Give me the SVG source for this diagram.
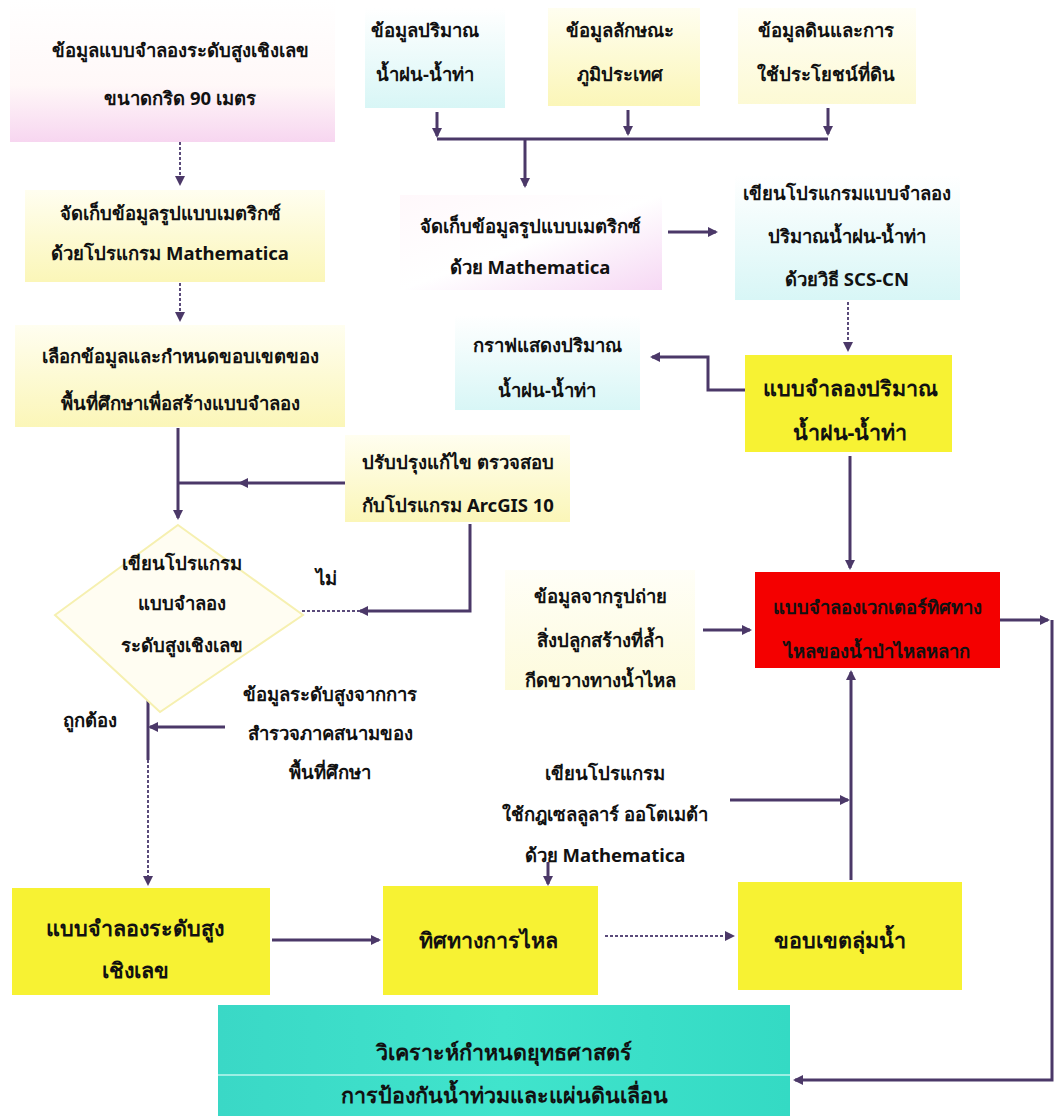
<svg xmlns="http://www.w3.org/2000/svg" width="1059" height="1116" viewBox="0 0 1059 1116">
<style>
.t{font-family:"Noto Sans","DejaVu Sans","Liberation Sans",sans-serif;font-weight:bold;font-size:18.5px;fill:#111;text-anchor:middle}
.b{font-size:21.5px}
.c{fill:none;stroke:#4b3868;stroke-width:3}
.d{fill:none;stroke:#5a4a7a;stroke-width:2;stroke-dasharray:3 2}
.fy{fill:#f7f233}
</style>
<defs>
<marker id="ah" markerWidth="10" markerHeight="10" refX="8" refY="5" orient="auto" markerUnits="userSpaceOnUse"><path d="M0,0 L10,5 L0,10 Z" fill="#4b3868"/></marker>
<linearGradient id="gp" x1="0" y1="0" x2="0" y2="1"><stop offset="0" stop-color="#ffffff"/><stop offset="0.6" stop-color="#fff8f8"/><stop offset="1" stop-color="#f7d6f0"/></linearGradient>
<linearGradient id="gy" x1="0" y1="0" x2="0" y2="1"><stop offset="0" stop-color="#fffef0"/><stop offset="1" stop-color="#fbf6b8"/></linearGradient>
<linearGradient id="gc" x1="0" y1="0" x2="0" y2="1"><stop offset="0" stop-color="#ffffff"/><stop offset="1" stop-color="#d8f6f6"/></linearGradient>
<linearGradient id="gk" x1="0" y1="0" x2="1" y2="1"><stop offset="0" stop-color="#fff8fb"/><stop offset="0.5" stop-color="#ffffff"/><stop offset="1" stop-color="#f6d8f4"/></linearGradient>
<linearGradient id="gt" x1="0" y1="0" x2="1" y2="0"><stop offset="0" stop-color="#3ad8c6"/><stop offset="0.5" stop-color="#40e4cc"/><stop offset="1" stop-color="#34dac4"/></linearGradient>
</defs>
<rect width="1059" height="1116" fill="#ffffff"/>

<g id="connectors">
<path class="d" d="M180,142 V184" marker-end="url(#ah)"/>
<path class="d" d="M180,283 V320" marker-end="url(#ah)"/>
<path class="c" d="M437,112 V136" marker-end="url(#ah)"/>
<path class="c" d="M628,110 V134" marker-end="url(#ah)"/>
<path class="c" d="M828,108 V134" marker-end="url(#ah)"/>
<path class="c" d="M437,139 H828"/>
<path class="c" d="M525,139 V186" marker-end="url(#ah)"/>
<path class="c" d="M668,232 H716" marker-end="url(#ah)"/>
<path class="d" d="M848,302 V350" marker-end="url(#ah)"/>
<path class="c" d="M745,390 H708 V357 H652" marker-end="url(#ah)"/>
<path class="c" d="M850,456 V568" marker-end="url(#ah)"/>
<path class="c" d="M178,428 V518" marker-end="url(#ah)"/>
<path class="c" d="M345,483 H240" marker-end="url(#ah)"/>
<path class="c" d="M240,483 H178"/>
<path class="c" d="M470,524 V611 H360" marker-end="url(#ah)"/>
<path class="d" d="M360,611 H300"/>
<path class="c" d="M148,696 V760"/>
<path class="d" d="M148,760 V884" marker-end="url(#ah)"/>
<path class="c" d="M225,727 H150" marker-end="url(#ah)"/>
<path class="c" d="M703,630 H750" marker-end="url(#ah)"/>
<path class="c" d="M730,800 H848" marker-end="url(#ah)"/>
<path class="c" d="M851,880 V672" marker-end="url(#ah)"/>
<path class="c" d="M548,862 V884" marker-end="url(#ah)"/>
<path class="c" d="M1000,620 H1048" marker-end="url(#ah)"/>
<path class="c" d="M1052,620 V1080 H795" marker-end="url(#ah)"/>
<path class="c" d="M272,940 H379" marker-end="url(#ah)"/>
<path class="d" d="M605,936 H733" marker-end="url(#ah)"/>
</g>

<g id="n1"><rect x="10" y="0" width="325" height="142" fill="url(#gp)"/>
<text class="t" x="180" y="57">ข้อมูลแบบจำลองระดับสูงเชิงเลข</text>
<text class="t" x="180" y="105">ขนาดกริด 90 เมตร</text></g>

<g id="n2"><rect x="365" y="8" width="140" height="100" fill="url(#gc)"/>
<text class="t" x="425" y="37">ข้อมูลปริมาณ</text>
<text class="t" x="425" y="81">น้ำฝน-น้ำท่า</text></g>

<g id="n3"><rect x="548" y="8" width="152" height="98" fill="url(#gy)"/>
<text class="t" x="620" y="37">ข้อมูลลักษณะ</text>
<text class="t" x="620" y="81">ภูมิประเทศ</text></g>

<g id="n4"><rect x="738" y="8" width="178" height="96" fill="url(#gy)" opacity="0.6"/>
<text class="t" x="826" y="37">ข้อมูลดินและการ</text>
<text class="t" x="826" y="81">ใช้ประโยชน์ที่ดิน</text></g>

<g id="n5"><rect x="25" y="190" width="300" height="92" fill="url(#gy)"/>
<text class="t" x="170" y="220">จัดเก็บข้อมูลรูปแบบเมตริกซ์</text>
<text class="t" x="170" y="260">ด้วยโปรแกรม Mathematica</text></g>

<g id="n6"><rect x="400" y="195" width="262" height="95" fill="url(#gk)"/>
<text class="t" x="530" y="233">จัดเก็บข้อมูลรูปแบบเมตริกซ์</text>
<text class="t" x="530" y="274">ด้วย Mathematica</text></g>

<g id="n7"><rect x="735" y="175" width="225" height="125" fill="url(#gc)"/>
<text class="t" x="847" y="200">เขียนโปรแกรมแบบจำลอง</text>
<text class="t" x="847" y="243">ปริมาณน้ำฝน-น้ำท่า</text>
<text class="t" x="847" y="286">ด้วยวิธี SCS-CN</text></g>

<g id="n8"><rect x="15" y="325" width="330" height="102" fill="url(#gy)"/>
<text class="t" x="180" y="363">เลือกข้อมูลและกำหนดขอบเขตของ</text>
<text class="t" x="180" y="410">พื้นที่ศึกษาเพื่อสร้างแบบจำลอง</text></g>

<g id="n9"><rect x="455" y="315" width="185" height="95" fill="url(#gc)"/>
<text class="t" x="547" y="352">กราฟแสดงปริมาณ</text>
<text class="t" x="547" y="397">น้ำฝน-น้ำท่า</text></g>

<g id="n10"><rect x="745" y="355" width="207" height="97" class="fy"/>
<text class="t b" x="850" y="396">แบบจำลองปริมาณ</text>
<text class="t b" x="850" y="440">น้ำฝน-น้ำท่า</text></g>

<g id="n11"><rect x="345" y="435" width="225" height="87" fill="url(#gy)"/>
<text class="t" x="458" y="469">ปรับปรุงแก้ไข ตรวจสอบ</text>
<text class="t" x="458" y="512">กับโปรแกรม ArcGIS 10</text></g>

<g id="n12"><polygon points="178,525 303,615 160,712 55,615" fill="#fffdf2" stroke="#f6f0b0" stroke-width="2"/>
<text class="t" x="182" y="570">เขียนโปรแกรม</text>
<text class="t" x="182" y="610">แบบจำลอง</text>
<text class="t" x="182" y="652">ระดับสูงเชิงเลข</text></g>

<g id="lbl"><text class="t" x="326" y="585">ไม่</text>
<text class="t" x="90" y="727">ถูกต้อง</text></g>

<g id="n13"><rect x="755" y="572" width="245" height="96" fill="#f40000"/>
<text class="t" x="877" y="614">แบบจำลองเวกเตอร์ทิศทาง</text>
<text class="t" x="877" y="658">ไหลของน้ำป่าไหลหลาก</text></g>

<g id="n14"><rect x="505" y="570" width="190" height="120" fill="url(#gy)" opacity="0.5"/>
<text class="t" x="600" y="603">ข้อมูลจากรูปถ่าย</text>
<text class="t" x="600" y="647">สิ่งปลูกสร้างที่ล้ำ</text>
<text class="t" x="600" y="687">กีดขวางทางน้ำไหล</text></g>

<g id="n15"><text class="t" x="330" y="701">ข้อมูลระดับสูงจากการ</text>
<text class="t" x="330" y="740">สำรวจภาคสนามของ</text>
<text class="t" x="330" y="779">พื้นที่ศึกษา</text></g>

<g id="n16"><text class="t" x="605" y="780">เขียนโปรแกรม</text>
<text class="t" x="605" y="821">ใช้กฎเซลลูลาร์ ออโตเมต้า</text>
<text class="t" x="605" y="862">ด้วย Mathematica</text></g>

<g id="n17"><rect x="12" y="888" width="258" height="107" class="fy"/>
<text class="t b" x="135" y="936">แบบจำลองระดับสูง</text>
<text class="t b" x="135" y="978">เชิงเลข</text></g>

<g id="n18"><rect x="383" y="886" width="215" height="109" class="fy"/>
<text class="t b" x="488" y="948">ทิศทางการไหล</text></g>

<g id="n19"><rect x="738" y="882" width="224" height="108" class="fy"/>
<text class="t b" x="840" y="948">ขอบเขตลุ่มน้ำ</text></g>

<g id="n20"><rect x="218" y="1005" width="572" height="111" fill="url(#gt)"/>
<line x1="218" y1="1075" x2="790" y2="1075" stroke="#bff6ee" stroke-width="1.5"/>
<text class="t b" x="504" y="1060">วิเคราะห์กำหนดยุทธศาสตร์</text>
<text class="t b" x="504" y="1103">การป้องกันน้ำท่วมและแผ่นดินเลื่อน</text></g>
</svg>
